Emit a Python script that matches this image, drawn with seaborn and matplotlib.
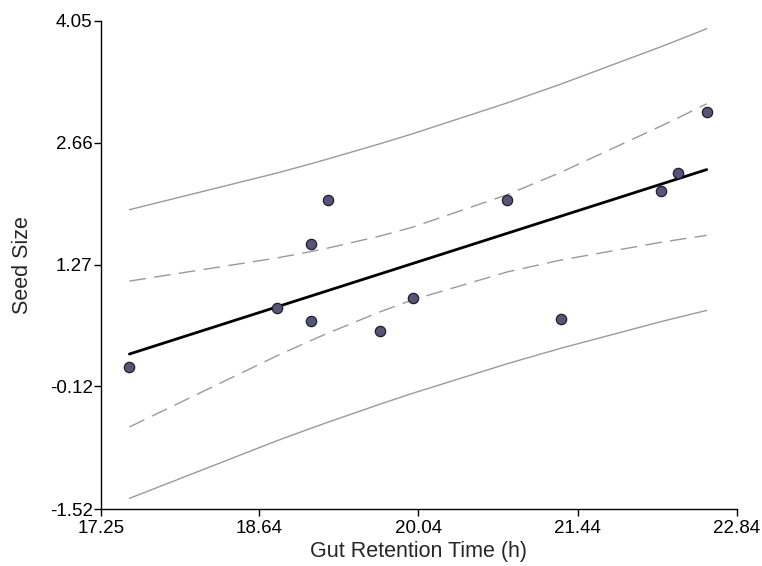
import numpy as np
import pandas as pd
import matplotlib
matplotlib.use("Agg")
import matplotlib.pyplot as plt
import seaborn as sns

# Data
retention_time = [17.50, 18.80, 19.10, 19.10, 19.245, 19.70, 19.99, 20.82, 21.29, 22.17, 22.32, 22.575]
seed_size = [0.10, 0.77, 0.63, 1.51, 2.01, 0.51, 0.89, 2.01, 0.65, 2.11, 2.31, 3.01]
x_ticks = [17.25, 18.64, 20.04, 21.44, 22.84]
y_ticks = [-1.52, -0.12, 1.27, 2.66, 4.05]
x_label = "Gut Retention Time (h)"
y_label = "Seed Size"

df = pd.DataFrame({"x": retention_time, "y": seed_size})

# OLS fit with 95% confidence and prediction intervals
x = np.asarray(retention_time)
y = np.asarray(seed_size)
n = len(x)
slope, intercept = np.polyfit(x, y, 1)
resid = y - (intercept + slope * x)
s = np.sqrt(np.sum(resid ** 2) / (n - 2))
sxx = np.sum((x - x.mean()) ** 2)
t_crit = 2.228  # t(0.975, df=10)
xs = np.unique(x)
fit = intercept + slope * xs
se_mean = s * np.sqrt(1 / n + (xs - x.mean()) ** 2 / sxx)
se_pred = s * np.sqrt(1 + 1 / n + (xs - x.mean()) ** 2 / sxx)
bands = pd.DataFrame({
    "x": xs, "fit": fit,
    "ci_lo": fit - t_crit * se_mean, "ci_hi": fit + t_crit * se_mean,
    "pi_lo": fit - t_crit * se_pred, "pi_hi": fit + t_crit * se_pred,
})

sns.set_style("white")
plt.rcParams["font.family"] = ["Liberation Sans", "DejaVu Sans"]

fig = plt.figure(figsize=(7.62, 5.66), dpi=100)
ax = fig.add_axes([0.1325, 0.1007, 0.8345, 0.8623])

for col in ["pi_lo", "pi_hi"]:
    sns.lineplot(data=bands, x="x", y=col, ax=ax, color="#9a9a9a", lw=1.0)
for col in ["ci_lo", "ci_hi"]:
    sns.lineplot(data=bands, x="x", y=col, ax=ax, color="#9a9a9a", lw=1.0,
                 dashes=False, linestyle=(0, (12, 6)))
sns.lineplot(data=bands, x="x", y="fit", ax=ax, color="black", lw=2.0)
sns.scatterplot(data=df, x="x", y="y", ax=ax, s=55, color="#555577",
                edgecolor="#1e1e2e", linewidth=0.9, zorder=5)

ax.set_xlim(x_ticks[0], x_ticks[-1])
ax.set_ylim(y_ticks[0], y_ticks[-1])
ax.set_xticks(x_ticks)
ax.set_yticks(y_ticks)
ax.set_xticklabels([f"{v:.2f}" for v in x_ticks])
ax.set_yticklabels([f"{v:.2f}" for v in y_ticks])
ax.tick_params(axis="both", direction="out", length=5, width=1, labelsize=13.5,
               colors="black", left=True, bottom=True)
ax.tick_params(axis="x", pad=3)
ax.tick_params(axis="y", pad=1)
ax.set_xlabel(x_label, fontsize=15.5, labelpad=3)
ax.set_ylabel(y_label, fontsize=15.5, labelpad=12)
for side in ["top", "right"]:
    ax.spines[side].set_visible(False)
for side in ["left", "bottom"]:
    ax.spines[side].set_color("black")
    ax.spines[side].set_linewidth(1.0)

fig.savefig("out.png", dpi=100)
